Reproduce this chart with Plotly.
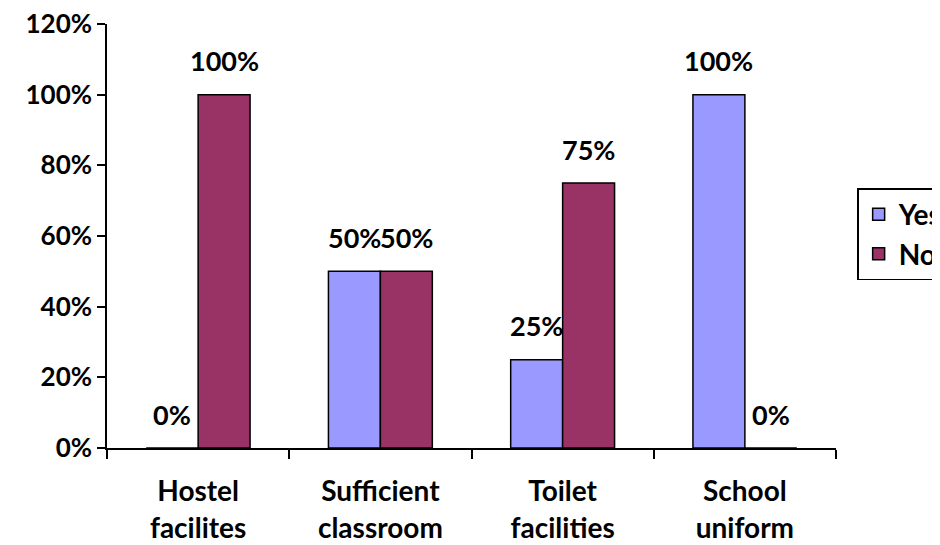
import plotly.graph_objects as go

categories = ["Hostel<br>facilites", "Sufficient<br>classroom", "Toilet<br>facilities", "School<br>uniform"]
yes_values = [0.0, 0.50, 0.25, 1.00]
no_values = [1.00, 0.50, 0.75, 0.0]
yes_labels = ["0%", "50%", "25%", "100%"]
no_labels = ["100%", "50%", "75%", "0%"]
y_ticks = [0, 0.2, 0.4, 0.6, 0.8, 1.0, 1.2]
y_tick_text = ["0%", "20%", "40%", "60%", "80%", "100%", "120%"]

FONT = "Lato"
YES_COLOR = "#9999FF"
NO_COLOR = "#993366"

fig = go.Figure()
fig.add_trace(go.Bar(name="Yes", x=categories, y=yes_values,
                     marker=dict(color=YES_COLOR, line=dict(color="black", width=1.5))))
fig.add_trace(go.Bar(name="No", x=categories, y=no_values,
                     marker=dict(color=NO_COLOR, line=dict(color="black", width=1.5))))

annotations = []
for cat, v, t in zip(categories, yes_values, yes_labels):
    annotations.append(dict(x=cat, y=v, text=t, showarrow=False, xshift=-26, yshift=34,
                            font=dict(family=FONT, size=27, color="black", weight="bold")))
for cat, v, t in zip(categories, no_values, no_labels):
    annotations.append(dict(x=cat, y=v, text=t, showarrow=False, xshift=26, yshift=34,
                            font=dict(family=FONT, size=27, color="black", weight="bold")))

# page body has an 8px margin, so the figure is drawn 8px in from the top-left
fig.update_layout(
    width=932, height=537,
    barmode="group", bargap=0.43, bargroupgap=0,
    plot_bgcolor="white", paper_bgcolor="white",
    margin=dict(l=99, r=104, t=16, b=97, autoexpand=False),
    font=dict(family=FONT, size=26, color="black", weight="bold"),
    annotations=annotations,
    legend=dict(x=1.029, y=0.613, xanchor="left", yanchor="top",
                bordercolor="black", borderwidth=1.5,
                font=dict(family=FONT, size=28, color="black", weight="bold")),
    showlegend=True,
)
fig.update_yaxes(range=[0, 1.2], tickvals=y_ticks, ticktext=y_tick_text,
                 showgrid=False, zeroline=False, showline=True, linecolor="black", linewidth=1.5,
                 ticks="outside", ticklen=8, tickcolor="black", tickwidth=1.5,
                 ticklabeloverflow="allow",
                 tickfont=dict(family=FONT, size=26, color="black", weight="bold"))
fig.update_xaxes(range=[-0.5, 3.5], showgrid=False, showline=True, linecolor="black", linewidth=1.5,
                 ticks="outside", tickson="boundaries", ticklen=9, tickcolor="black", tickwidth=1.5,
                 ticklabelstandoff=18, ticklabeloverflow="allow",
                 tickfont=dict(family=FONT, size=28, color="black", weight="bold"))

fig.write_html("out.html")
